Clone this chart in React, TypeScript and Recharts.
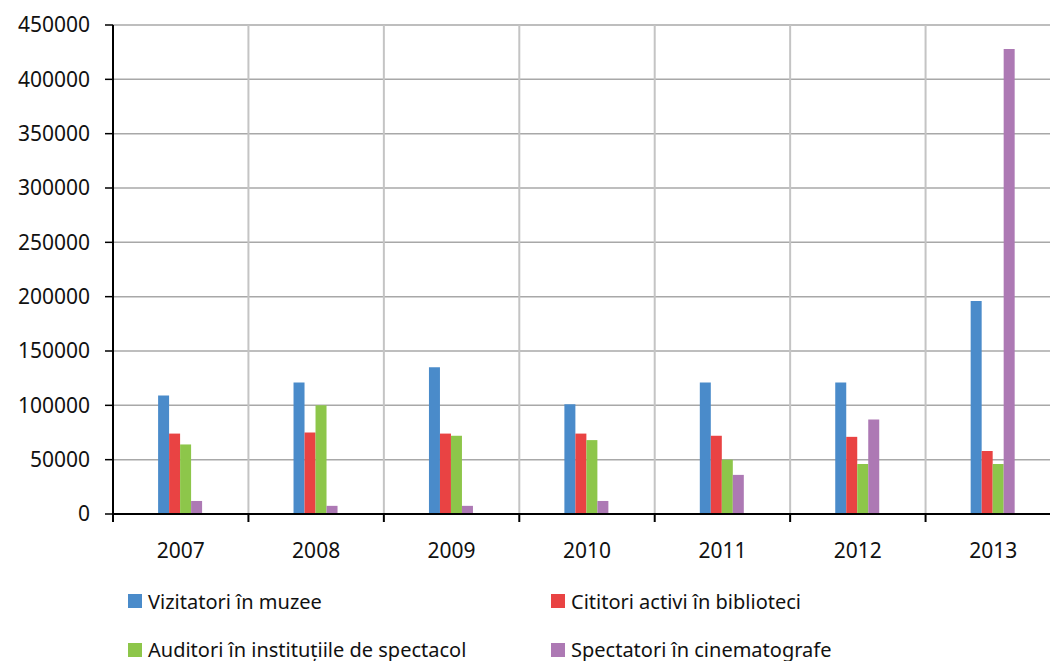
import React from 'react';
import { BarChart, Bar, XAxis, YAxis, CartesianGrid } from 'recharts';

const years = ['2007', '2008', '2009', '2010', '2011', '2012', '2013'];
const vizitatori = [109000, 121000, 135000, 101000, 121000, 121000, 196000];
const cititori = [74000, 75000, 74000, 74000, 72000, 71000, 58000];
const auditori = [64000, 100000, 72000, 68000, 50000, 46000, 46000];
const spectatori = [12000, 7500, 7500, 12000, 36000, 87000, 428000];
const yTicks = [0, 50000, 100000, 150000, 200000, 250000, 300000, 350000, 400000, 450000];

const seriesNames = [
  'Vizitatori în muzee',
  'Cititori activi în biblioteci',
  'Auditori în instituțiile de spectacol',
  'Spectatori în cinematografe',
];
const seriesKeys = ['viz', 'cit', 'aud', 'spe'];
const seriesColors = ['#4a8bca', '#e94343', '#8dc64a', '#ad79b4'];

const data = years.map((y, i) => ({
  year: y,
  viz: vizitatori[i],
  cit: cititori[i],
  aud: auditori[i],
  spe: spectatori[i],
}));

const AXIS_FONT = '"Noto Sans", sans-serif';
const TICK_SIZE = 8;
const TICK_MARGIN = 21;

const XTick = (props: any) => {
  const { x, y, payload } = props;
  const half = payload && payload.offset ? payload.offset : 67.7;
  const axisY = y - TICK_SIZE - TICK_MARGIN;
  return (
    <g>
      <line x1={x - half} x2={x - half} y1={axisY} y2={axisY + TICK_SIZE} stroke="#000" strokeWidth={2} />
      <text x={x} y={y} dy="0.71em" textAnchor="middle" fill="#111" fontSize={21} fontFamily={AXIS_FONT}>
        {payload.value}
      </text>
    </g>
  );
};

const verticalGen = (props: any) => {
  const off = props.offset;
  const bw = off.width / years.length;
  const pts: number[] = [];
  for (let i = 1; i < years.length; i++) pts.push(off.left + i * bw);
  return pts;
};

export default function App() {
  return (
    <div style={{ position: 'absolute', left: 0, top: 0, width: 1050, height: 661, overflow: 'hidden', background: '#fff' }}>
      <BarChart
        width={1061}
        height={661}
        data={data}
        margin={{ top: 25, right: 0, bottom: 87, left: 0 }}
        barCategoryGap="33.3%"
        barGap={0}
      >
        <CartesianGrid vertical={false} stroke="#a8a8a8" strokeWidth={1.5} />
        <CartesianGrid horizontal={false} stroke="#c4c4c4" strokeWidth={2} verticalCoordinatesGenerator={verticalGen} />
        <XAxis
          dataKey="year"
          height={60}
          axisLine={{ stroke: '#000', strokeWidth: 2 }}
          tickLine={false}
          tickSize={TICK_SIZE}
          tickMargin={TICK_MARGIN}
          tick={<XTick />}
          interval={0}
        />
        <YAxis
          width={113}
          domain={[0, 450000]}
          ticks={yTicks}
          interval={0}
          axisLine={{ stroke: '#000', strokeWidth: 2 }}
          tickLine={{ stroke: '#000', strokeWidth: 1.5 }}
          tickSize={TICK_SIZE}
          tickMargin={15}
          tick={{ fill: '#111', fontSize: 21, fontFamily: AXIS_FONT }}
        />
        {seriesKeys.map((k, i) => (
          <Bar key={k} dataKey={k} name={seriesNames[i]} fill={seriesColors[i]} isAnimationActive={false} />
        ))}
      </BarChart>
      <div
        style={{
          position: 'absolute',
          left: 128,
          top: 587,
          display: 'grid',
          gridTemplateColumns: '423px 423px',
          gridAutoRows: '48.5px',
          fontFamily: '"Noto Sans", sans-serif',
          fontSize: 20,
          color: '#111',
        }}
      >
        {seriesNames.map((n, i) => (
          <div key={n} style={{ display: 'flex', alignItems: 'center', height: 28, whiteSpace: 'nowrap' }}>
            <span style={{ display: 'inline-block', width: 14, height: 14, background: seriesColors[i], marginRight: 6 }} />
            <span>{n}</span>
          </div>
        ))}
      </div>
    </div>
  );
}
